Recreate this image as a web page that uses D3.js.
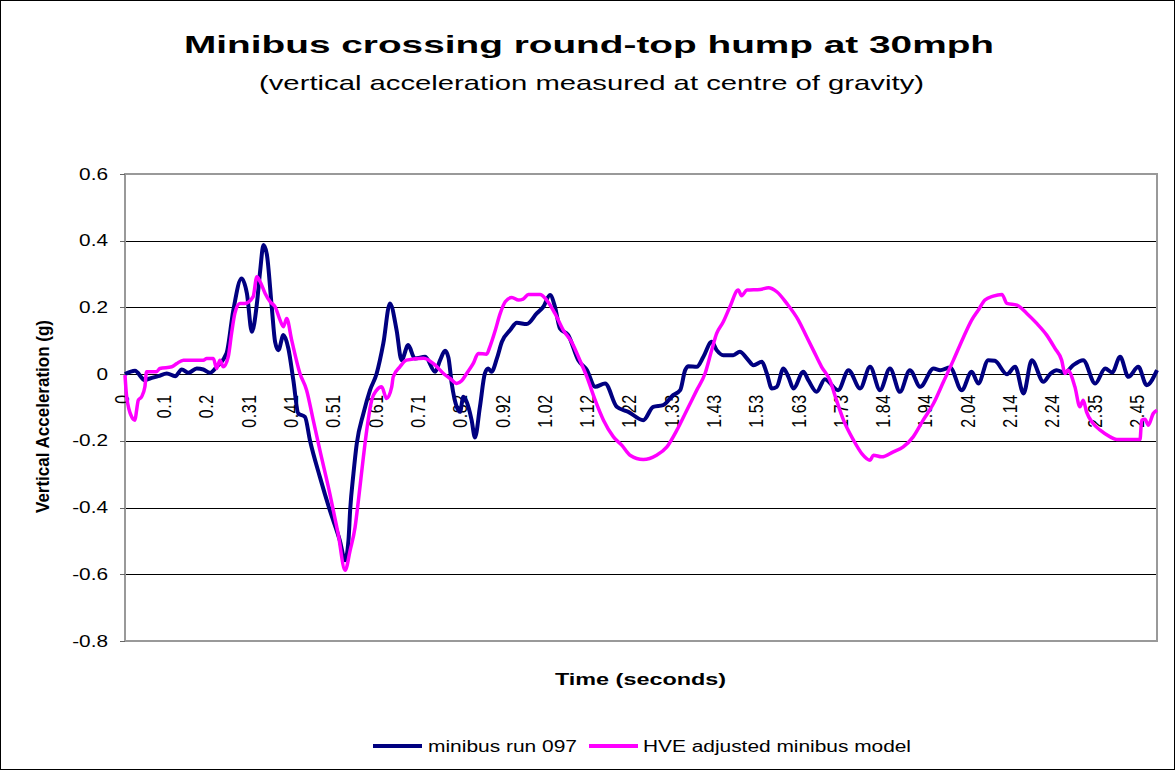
<!DOCTYPE html>
<meta charset="utf-8">
<html>
<head>
<script src="https://cdnjs.cloudflare.com/ajax/libs/d3/7.8.5/d3.min.js"></script>
<style>
  body { margin: 0; background: #fff; }
  text { font-family: "Liberation Sans", Arial, sans-serif; fill: #000; }
</style>
</head>
<body>
<script>
// ---- data (time in seconds, vertical acceleration in g) ----
var runData = [
  [0.000,0.000],[0.024,0.010],[0.048,-0.018],[0.060,-0.013],[0.080,-0.006],[0.101,0.002],
  [0.121,-0.006],[0.137,0.014],[0.153,0.004],[0.173,0.017],[0.189,0.014],[0.205,0.004],
  [0.221,0.022],[0.245,0.063],[0.261,0.190],[0.281,0.287],[0.294,0.242],[0.306,0.127],
  [0.318,0.210],[0.326,0.310],[0.334,0.387],[0.342,0.360],[0.354,0.200],[0.362,0.097],
  [0.370,0.072],[0.382,0.117],[0.394,0.077],[0.406,-0.018],[0.418,-0.118],[0.434,-0.128],
  [0.446,-0.198],[0.470,-0.308],[0.494,-0.408],[0.518,-0.498],[0.531,-0.558],[0.539,-0.498],
  [0.543,-0.408],[0.551,-0.298],[0.559,-0.208],[0.575,-0.118],[0.591,-0.048],[0.607,0.002],
  [0.623,0.092],[0.639,0.212],[0.655,0.132],[0.667,0.042],[0.683,0.087],[0.699,0.047],
  [0.724,0.052],[0.748,0.007],[0.760,0.042],[0.772,0.070],[0.780,0.050],[0.788,-0.028],
  [0.800,-0.098],[0.808,-0.113],[0.816,-0.068],[0.824,-0.083],[0.836,-0.138],[0.844,-0.190],
  [0.856,-0.098],[0.868,0.002],[0.876,0.017],[0.884,0.007],[0.897,0.047],[0.909,0.097],
  [0.929,0.132],[0.945,0.154],[0.969,0.150],[0.993,0.182],[1.009,0.202],[1.025,0.237],
  [1.037,0.202],[1.049,0.137],[1.069,0.117],[1.093,0.042],[1.114,0.012],[1.134,-0.038],
  [1.158,-0.028],[1.186,-0.098],[1.214,-0.113],[1.250,-0.138],[1.274,-0.098],[1.298,-0.093],
  [1.322,-0.063],[1.339,-0.048],[1.351,0.012],[1.359,0.024],[1.379,0.022],[1.395,0.052],
  [1.415,0.097],[1.427,0.072],[1.443,0.057],[1.467,0.057],[1.483,0.067],[1.500,0.047],
  [1.516,0.027],[1.536,0.037],[1.548,0.002],[1.560,-0.043],[1.572,-0.038],[1.588,0.017],
  [1.600,-0.008],[1.612,-0.043],[1.636,0.007],[1.648,-0.018],[1.668,-0.053],[1.688,-0.015],
  [1.720,-0.048],[1.745,0.012],[1.773,-0.043],[1.797,0.022],[1.821,-0.048],[1.845,0.017],
  [1.869,-0.053],[1.893,0.012],[1.918,-0.038],[1.950,0.017],[1.966,0.012],[1.990,0.020],
  [2.018,-0.048],[2.042,0.007],[2.058,-0.028],[2.082,0.042],[2.098,0.040],[2.127,0.000],
  [2.147,0.022],[2.167,-0.058],[2.187,0.042],[2.215,-0.023],[2.231,0.000],[2.247,0.012],
  [2.267,0.004],[2.287,0.027],[2.311,0.042],[2.340,-0.028],[2.364,0.017],[2.381,0.005],
  [2.400,0.052],[2.420,-0.008],[2.444,0.022],[2.464,-0.033],[2.489,0.012]
];

var modelData = [
  [0.000,-0.003],[0.004,-0.068],[0.016,-0.128],[0.024,-0.138],[0.028,-0.108],[0.032,-0.078],
  [0.040,-0.068],[0.048,-0.038],[0.052,0.007],[0.076,0.007],[0.084,0.017],[0.113,0.022],
  [0.125,0.032],[0.141,0.042],[0.189,0.042],[0.197,0.047],[0.213,0.047],[0.221,0.017],
  [0.229,0.042],[0.237,0.022],[0.249,0.052],[0.257,0.122],[0.265,0.182],[0.277,0.212],
  [0.289,0.212],[0.309,0.232],[0.318,0.292],[0.326,0.277],[0.338,0.242],[0.350,0.217],
  [0.362,0.202],[0.374,0.162],[0.382,0.142],[0.390,0.167],[0.402,0.102],[0.422,0.002],
  [0.438,-0.048],[0.454,-0.138],[0.470,-0.228],[0.494,-0.358],[0.514,-0.478],[0.531,-0.588],
  [0.543,-0.528],[0.555,-0.458],[0.563,-0.378],[0.575,-0.248],[0.583,-0.168],[0.595,-0.078],
  [0.607,-0.048],[0.619,-0.038],[0.631,-0.073],[0.643,-0.040],[0.647,-0.008],[0.663,0.022],
  [0.679,0.042],[0.720,0.048],[0.748,0.027],[0.768,0.002],[0.784,-0.013],[0.800,-0.028],
  [0.812,-0.020],[0.824,0.002],[0.840,0.032],[0.852,0.062],[0.872,0.060],[0.880,0.082],
  [0.892,0.127],[0.905,0.182],[0.917,0.217],[0.933,0.230],[0.949,0.222],[0.960,0.225],
  [0.973,0.239],[1.001,0.239],[1.017,0.222],[1.037,0.182],[1.057,0.132],[1.077,0.097],
  [1.097,0.042],[1.114,-0.008],[1.134,-0.078],[1.154,-0.138],[1.178,-0.188],[1.198,-0.213],
  [1.218,-0.243],[1.250,-0.256],[1.282,-0.243],[1.307,-0.218],[1.331,-0.168],[1.355,-0.108],
  [1.379,-0.048],[1.399,0.002],[1.415,0.072],[1.427,0.122],[1.443,0.157],[1.459,0.202],
  [1.479,0.252],[1.487,0.235],[1.500,0.252],[1.532,0.254],[1.552,0.259],[1.572,0.247],
  [1.596,0.212],[1.624,0.162],[1.644,0.112],[1.660,0.072],[1.680,0.022],[1.700,-0.018],
  [1.716,-0.078],[1.733,-0.138],[1.757,-0.198],[1.777,-0.238],[1.797,-0.258],[1.805,-0.243],
  [1.825,-0.248],[1.853,-0.233],[1.877,-0.218],[1.901,-0.188],[1.925,-0.138],[1.950,-0.088],
  [1.974,-0.023],[1.998,0.042],[2.022,0.110],[2.042,0.162],[2.058,0.192],[2.074,0.222],
  [2.094,0.234],[2.115,0.239],[2.127,0.212],[2.151,0.207],[2.175,0.182],[2.199,0.152],
  [2.223,0.117],[2.243,0.077],[2.259,0.042],[2.267,0.002],[2.274,0.012],[2.291,-0.038],
  [2.303,-0.098],[2.311,-0.078],[2.319,-0.113],[2.335,-0.148],[2.352,-0.168],[2.376,-0.188],
  [2.392,-0.196],[2.448,-0.196],[2.452,-0.138],[2.460,-0.135],[2.468,-0.153],[2.480,-0.118],
  [2.489,-0.108]
];

var seriesNames = ["minibus run 097", "HVE adjusted minibus model"];
var seriesColors = ["#000080", "#ff00ff"];

var xTickLabels = ["0","0.1","0.2","0.31","0.41","0.51","0.61","0.71","0.82","0.92","1.02",
  "1.12","1.22","1.33","1.43","1.53","1.63","1.73","1.84","1.94","2.04","2.14","2.24","2.35","2.45"];
var labelStep = 0.102;   // seconds between category labels
var yTicks = [-0.8, -0.6, -0.4, -0.2, 0, 0.2, 0.4, 0.6];
var yTickLabels = ["-0.8","-0.6","-0.4","-0.2","0","0.2","0.4","0.6"];

// ---- layout ----
var W = 1176, H = 771;
var plot = {left: 125, right: 1157, top: 174, bottom: 641};
var stretch = 1.3;   // the original picture is widened horizontally

var svg = d3.select("body").append("svg")
    .attr("width", W).attr("height", H);

svg.append("rect")
    .attr("x", 0.5).attr("y", 0.5)
    .attr("width", W - 2).attr("height", H - 2)
    .attr("fill", "#fff").attr("stroke", "#000");

var x = d3.scaleLinear().domain([0, 2.489]).range([plot.left, plot.right]);
var y = d3.scaleLinear().domain([-0.8, 0.6]).range([plot.bottom, plot.top]);

// gridlines
svg.append("g").selectAll("line")
    .data(yTicks.filter(function(d) { return d > -0.8 && d < 0.6; }))
    .enter().append("line")
    .attr("x1", plot.left).attr("x2", plot.right)
    .attr("y1", function(d) { return Math.round(y(d)) + 0.5; })
    .attr("y2", function(d) { return Math.round(y(d)) + 0.5; })
    .attr("stroke", "#000").attr("stroke-width", 1);

// plot border
svg.append("rect")
    .attr("x", plot.left).attr("y", plot.top)
    .attr("width", plot.right - plot.left).attr("height", plot.bottom - plot.top)
    .attr("fill", "none").attr("stroke", "#999").attr("stroke-width", 2);

// y ticks + labels
svg.append("g").selectAll("line")
    .data(yTicks).enter().append("line")
    .attr("x1", plot.left - 5).attr("x2", plot.left)
    .attr("y1", function(d) { return Math.round(y(d)) + 0.5; })
    .attr("y2", function(d) { return Math.round(y(d)) + 0.5; })
    .attr("stroke", "#666");

svg.append("g").selectAll("text")
    .data(yTicks).enter().append("text")
    .attr("transform", function(d) { return "translate(108," + y(d) + ") scale(" + stretch + ",1)"; })
    .attr("dy", "0.35em")
    .attr("text-anchor", "end")
    .style("font-size", "16px")
    .text(function(d, i) { return yTickLabels[i]; });

// x category labels, rotated, hanging under the zero line
svg.append("g").selectAll("text")
    .data(xTickLabels).enter().append("text")
    .attr("transform", function(d, i) {
        return "translate(" + x(i * labelStep) + "," + (y(0) + 20) + ") scale(" + stretch + ",1) rotate(-90)";
    })
    .attr("dy", "3")
    .attr("text-anchor", "end")
    .style("font-size", "16px")
    .style("letter-spacing", "0.6px")
    .text(function(d) { return d; });

// series
var line = d3.line()
    .curve(d3.curveMonotoneX)
    .x(function(d) { return x(d[0]); })
    .y(function(d) { return y(d[1]); });

[runData, modelData].forEach(function(data, i) {
    svg.append("path")
        .datum(data)
        .attr("d", line)
        .attr("fill", "none")
        .attr("stroke", seriesColors[i])
        .attr("stroke-width", i === 0 ? 4 : 3.5)
        .attr("stroke-linejoin", "round");
});

// titles
svg.append("text")
    .attr("x", 184).attr("y", 53)
    .attr("textLength", 810).attr("lengthAdjust", "spacingAndGlyphs")
    .style("font-size", "24px").style("font-weight", "bold")
    .text("Minibus crossing round-top hump at 30mph");

svg.append("text")
    .attr("x", 259).attr("y", 90)
    .attr("textLength", 665).attr("lengthAdjust", "spacingAndGlyphs")
    .style("font-size", "21px")
    .text("(vertical acceleration measured at centre of gravity)");

svg.append("text")
    .attr("x", 555).attr("y", 685)
    .attr("textLength", 171).attr("lengthAdjust", "spacingAndGlyphs")
    .style("font-size", "16px").style("font-weight", "bold")
    .text("Time (seconds)");

svg.append("text")
    .attr("transform", "translate(49,513) scale(1.15,1) rotate(-90)")
    .attr("textLength", 193).attr("lengthAdjust", "spacingAndGlyphs")
    .style("font-size", "16px").style("font-weight", "bold")
    .text("Vertical Acceleration (g)");

// legend
var legendItems = [
    {x1: 373, x2: 422, tx: 428, len: 149},
    {x1: 589, x2: 638, tx: 643, len: 268}
];
var legend = svg.append("g");
legendItems.forEach(function(it, i) {
    legend.append("line")
        .attr("x1", it.x1).attr("x2", it.x2)
        .attr("y1", 746).attr("y2", 746)
        .attr("stroke", seriesColors[i]).attr("stroke-width", 4);
    legend.append("text")
        .attr("x", it.tx).attr("y", 752)
        .attr("textLength", it.len).attr("lengthAdjust", "spacingAndGlyphs")
        .style("font-size", "16px")
        .text(seriesNames[i]);
});
</script>
</body>
</html>
